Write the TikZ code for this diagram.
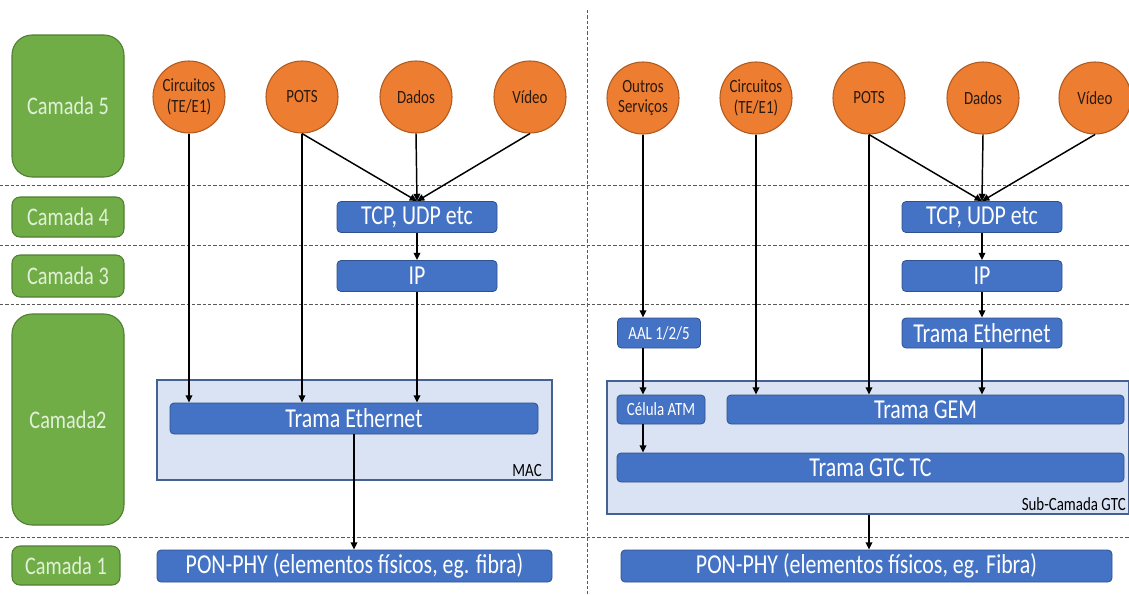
\documentclass[tikz,border=0pt]{standalone}
\usepackage{fontspec}
\setmainfont{Carlito}[FakeStretch=0.8]
\usetikzlibrary{arrows.meta}

\definecolor{laygreen}{HTML}{70AD47}
\definecolor{laygreenD}{HTML}{507E32}
\definecolor{laytext}{HTML}{E2F0D9}
\definecolor{svc}{HTML}{ED7D31}
\definecolor{svcD}{HTML}{AE5A21}
\definecolor{svctext}{HTML}{2A1A10}
\definecolor{blk}{HTML}{4472C4}
\definecolor{blkD}{HTML}{2F528F}
\definecolor{zone}{HTML}{DAE3F3}
\definecolor{zoneD}{HTML}{44618F}
\definecolor{sepgray}{HTML}{595959}

\tikzset{
  layer/.style={draw=laygreenD, fill=laygreen, text=laytext, rounded corners=6pt,
    line width=0.8pt, inner sep=0pt, minimum width=84pt, font=\fontsize{19}{21}\selectfont},
  svcnode/.style={circle, draw=svcD, fill=svc, minimum size=54pt, inner sep=0pt,
    line width=0.8pt, align=center, text=svctext, font=\fontsize{14}{15.5}\selectfont},
  blk/.style={draw=blkD, fill=blk, text=white, rounded corners=3pt, line width=0.6pt,
    inner sep=0pt, font=\fontsize{20.5}{23}\selectfont},
  blksmall/.style={blk, font=\fontsize{14}{16}\selectfont},
  zonebox/.style={draw=zoneD, fill=zone, line width=0.8pt, inner sep=0pt},
  zonelabel/.style={inner sep=0pt, text=black, font=\fontsize{14}{16}\selectfont},
  flow/.style={-{Triangle[length=5.5pt,width=5pt]}, line width=1.1pt, black},
  sep/.style={draw=sepgray, dash pattern=on 2.5pt off 1.5pt, line width=0.6pt}
}

\begin{document}
\begin{tikzpicture}[x=0.75pt,y=-0.75pt]
\useasboundingbox (0,0) rectangle (1129,594);

% layer separators
\draw[sep] (0,185) -- (1129,185);
\draw[sep] (0,245) -- (1129,245);
\draw[sep] (0,304) -- (1129,304);
\draw[sep] (0,537) -- (1129,537);
\draw[sep] (587,10) -- (587,594);

% layer labels
\node[layer, rounded corners=15pt, minimum height=106.5pt] (g5) at (68,106) {Camada 5};
\node[layer, minimum height=30pt] (g4) at (68,217) {Camada 4};
\node[layer, minimum height=31.5pt] (g3) at (68,276) {Camada 3};
\node[layer, rounded corners=15pt, minimum height=158.25pt] (g2) at (68,419.5) {Camada2};
\node[layer, minimum width=81pt, minimum height=29.25pt] (g1) at (66,565.5) {Camada 1};

% sub-layer containers
\node[zonebox, minimum width=296.25pt, minimum height=75pt] (macZone) at (354.5,430) {};
\node[zonebox, minimum width=391.5pt, minimum height=99.75pt] (gtcZone) at (868,447.5) {};
\node[zonelabel, anchor=south east] (macLbl) at (542,477) {MAC};
\node[zonelabel, anchor=south east] (gtcLbl) at (1126,511) {Sub-Camada GTC};

% services, left stack
\node[svcnode] (cl1) at (189,97) {Circuitos\\(TE/E1)};
\node[svcnode] (cl2) at (302,97) {POTS};
\node[svcnode] (cl3) at (416,97) {Dados};
\node[svcnode] (cl4) at (530,97) {Vídeo};

% services, right stack
\node[svcnode] (cr1) at (643,98) {Outros\\Serviços};
\node[svcnode] (cr2) at (756,98) {Circuitos\\(TE/E1)};
\node[svcnode] (cr3) at (869,98) {POTS};
\node[svcnode] (cr4) at (983,98) {Dados};
\node[svcnode] (cr5) at (1095,98) {Vídeo};

% protocol blocks, left stack
\node[blk, minimum width=120pt, minimum height=23.25pt] (tcpL) at (417,217) {TCP, UDP etc};
\node[blk, minimum width=120pt, minimum height=23.25pt] (ipL) at (417,276) {IP};
\node[blk, minimum width=276pt, minimum height=23.25pt] (ethL) at (354,418.5) {Trama Ethernet};
\node[blk, minimum width=296.25pt, minimum height=24pt] (phyL) at (354.5,566) {PON-PHY (elementos físicos, eg. fibra)};

% protocol blocks, right stack
\node[blk, minimum width=120pt, minimum height=23.25pt] (tcpR) at (982,217) {TCP, UDP etc};
\node[blk, minimum width=120pt, minimum height=23.25pt] (ipR) at (982,276) {IP};
\node[blk, minimum width=120pt, minimum height=22.5pt] (ethR) at (982,333) {Trama Ethernet};
\node[blksmall, minimum width=62.25pt, minimum height=22.5pt] (aal) at (659,333) {AAL 1/2/5};
\node[blksmall, minimum width=66pt, minimum height=21.75pt] (cel) at (661,409.5) {Célula ATM};
\node[blk, minimum width=297.75pt, minimum height=21.75pt] (gem) at (925.5,409.5) {Trama GEM};
\node[blk, minimum width=380.25pt, minimum height=21.75pt] (gtc) at (870.5,467.5) {Trama GTC TC};
\node[blk, minimum width=368.25pt, minimum height=24pt] (phyR) at (866.5,566) {PON-PHY (elementos físicos, eg. Fibra)};

% flows, left stack
\draw[flow] (cl1.south) -- (cl1.south |- ethL.north);
\draw[flow] (cl2.south) -- (cl2.south |- ethL.north);
\draw[flow] (cl2.south) -- (tcpL.north);
\draw[flow] (cl3.south) -- (tcpL.north);
\draw[flow] (cl4.south) -- (tcpL.north);
\draw[flow] (tcpL.south) -- (ipL.north);
\draw[flow] (ipL.south) -- (ipL.south |- ethL.north);
\draw[flow] (ethL.south) -- (ethL.south |- phyL.north);

% flows, right stack
\draw[flow] (cr1.south) -- (cr1.south |- aal.north);
\draw[flow] (cr1.south |- aal.south) -- (cr1.south |- cel.north);
\draw[flow] (cr1.south |- cel.south) -- (cr1.south |- gtc.north);
\draw[flow] (cr2.south) -- (cr2.south |- gem.north);
\draw[flow] (cr3.south) -- (cr3.south |- gem.north);
\draw[flow] (cr3.south) -- (tcpR.north);
\draw[flow] (cr4.south) -- (tcpR.north);
\draw[flow] (cr5.south) -- (tcpR.north);
\draw[flow] (tcpR.south) -- (ipR.north);
\draw[flow] (ipR.south) -- (ethR.north);
\draw[flow] (ethR.south) -- (ethR.south |- gem.north);
\draw[flow] (cr3.south |- gtcZone.south) -- (cr3.south |- phyR.north);
\end{tikzpicture}
\end{document}
